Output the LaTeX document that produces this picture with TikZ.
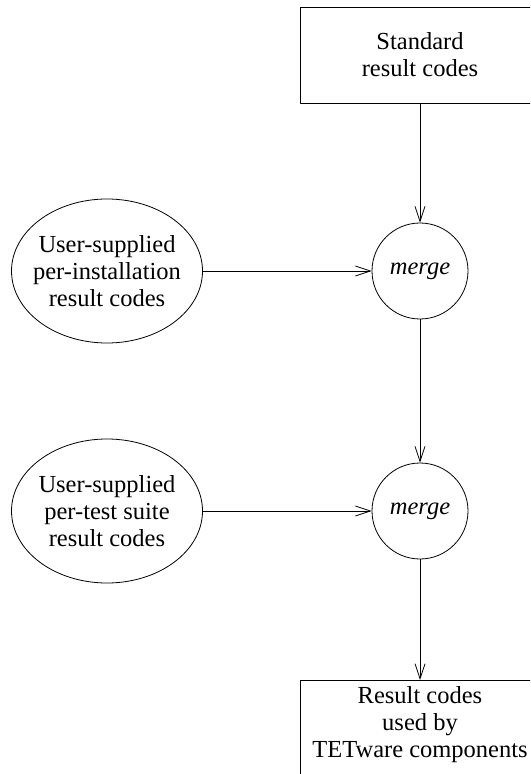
\documentclass[tikz,border=0pt]{standalone}
\usepackage{fontspec}
\setmainfont{Liberation Serif}
\usetikzlibrary{shapes.geometric,arrows.meta}
\begin{document}
\begin{tikzpicture}[x=0.5pt, y=-0.5pt, line join=round, font=\fontsize{12.25pt}{13.5pt}\selectfont, >={Straight Barb[length=7.5pt,width=5pt]}]
	\useasboundingbox (0,0) rectangle (530,774);
	\clip (0,0) rectangle (530,774);
	\tikzset{
		codebox/.style={draw, align=center, minimum width=120pt, inner sep=3pt},
		userel/.style={draw, ellipse, align=center, minimum width=95.5pt, minimum height=72pt, inner sep=-20pt},
		mergec/.style={draw, circle, minimum size=48pt, inner sep=0pt, font=\fontsize{12.25pt}{13.5pt}\selectfont\itshape}
	}
	\node[codebox, minimum height=48pt] (std) at (420,55) {Standard\\result codes};
	\node[userel] (inst) at (107,271) {User-supplied\\per-installation\\result codes};
	\node[mergec] (m1) at (420,271) {merge};
	\node[userel] (suite) at (107,511) {User-supplied\\per-test suite\\result codes};
	\node[mergec] (m2) at (420,511) {merge};
	\node[codebox, anchor=north, text depth=9pt] (used) at (420,680) {Result codes\\used by\\TETware components};
	\draw[->] (std)--(m1);
	\draw[->] (inst)--(m1);
	\draw[->] (m1)--(m2);
	\draw[->] (suite)--(m2);
	\draw[->] (m2)--(used);
\end{tikzpicture}
\end{document}
